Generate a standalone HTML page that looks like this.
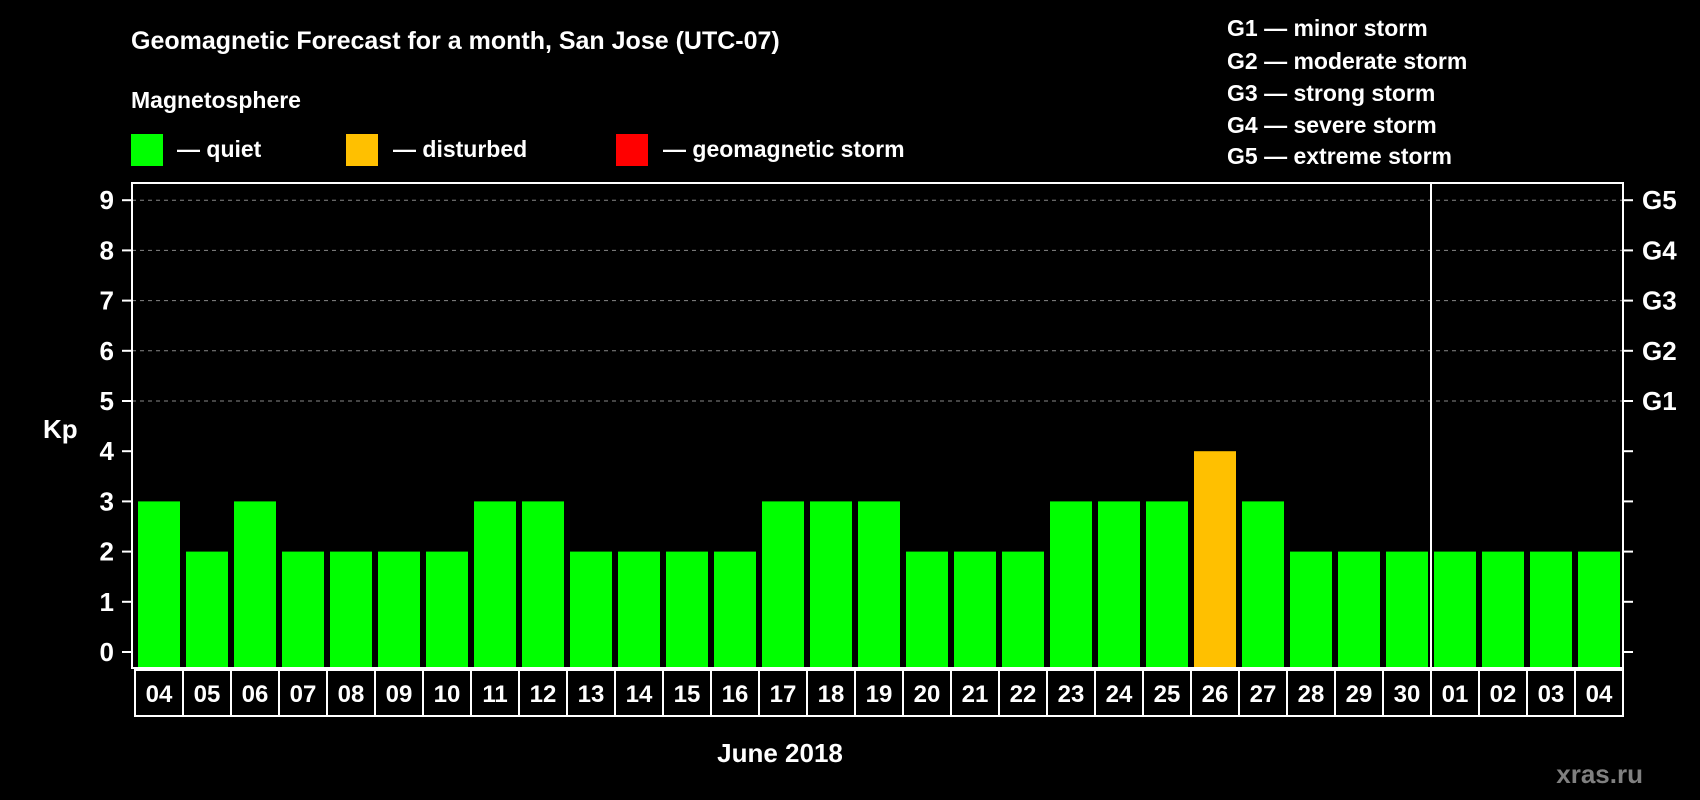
<!DOCTYPE html>
<html><head><meta charset="utf-8"><style>
html,body{margin:0;padding:0;background:#000;}
svg{display:block;font-family:"Liberation Sans",Arial,sans-serif;font-weight:bold;}
</style></head><body>
<svg id="c" width="1700" height="800" viewBox="0 0 1700 800">
<rect width="1700" height="800" fill="#000"/>
<text x="131" y="49" fill="#fff" font-size="25">Geomagnetic Forecast for a month, San Jose (UTC-07)</text>
<text x="131" y="108" fill="#fff" font-size="23">Magnetosphere</text>
<g><rect x="131" y="134" width="32" height="32" fill="#00ff00"/><text x="177" y="157" fill="#fff" font-size="23">— quiet</text></g>
<g><rect x="346" y="134" width="32" height="32" fill="#ffc000"/><text x="393" y="157" fill="#fff" font-size="23">— disturbed</text></g>
<g><rect x="616" y="134" width="32" height="32" fill="#ff0000"/><text x="663" y="157" fill="#fff" font-size="23">— geomagnetic storm</text></g>
<g fill="#fff" font-size="23">
<text x="1227" y="36">G1 — minor storm</text>
<text x="1227" y="69">G2 — moderate storm</text>
<text x="1227" y="101">G3 — strong storm</text>
<text x="1227" y="133">G4 — severe storm</text>
<text x="1227" y="164">G5 — extreme storm</text>
</g>
<text x="43" y="438" fill="#fff" font-size="26">Kp</text>
<text x="780" y="762" fill="#fff" font-size="26" text-anchor="middle">June 2018</text>
<text x="1643" y="783" fill="#808080" font-size="26" text-anchor="end">xras.ru</text>
<g id="grid"></g><g id="bars"></g><g id="axes"></g><g id="labels"></g>
</svg>
<script>
const days=["04","05","06","07","08","09","10","11","12","13","14","15","16","17","18","19","20","21","22","23","24","25","26","27","28","29","30","01","02","03","04"];
const kp=[3,2,3,2,2,2,2,3,3,2,2,2,2,3,3,3,2,2,2,3,3,3,4,3,2,2,2,2,2,2,2];
const yTicks=[0,1,2,3,4,5,6,7,8,9];
const gLabels=["G1","G2","G3","G4","G5"];
const gLevels=[5,6,7,8,9];
const NS="http://www.w3.org/2000/svg";
const L=132,R=1623,T=183,B=668,X0=135,slot=(1620-135+3)/31;
const y=v=>652-v*50.2;
const x=i=>X0+i*slot;
function mk(tag,attrs,parent){const e=document.createElementNS(NS,tag);for(const k in attrs)e.setAttribute(k,attrs[k]);document.getElementById(parent).appendChild(e);return e;}
gLevels.forEach(v=>{const e=mk('line',{x1:L,x2:R,y1:y(v),y2:y(v),stroke:'#888','stroke-dasharray':'4,4','stroke-width':1},'grid');

});
kp.forEach((v,i)=>{const e=mk('rect',{x:x(i)+3,y:y(v),width:slot-6,height:y(0)+16-y(v),fill:v>=5?'#ff0000':(v>=4?'#ffc000':'#00ff00')},'bars');

});
const f=mk('rect',{x:L,y:T,width:R-L,height:B-T,fill:'none',stroke:'#fff','stroke-width':2},'axes');


const sx=x(27);
const s=mk('line',{x1:sx,x2:sx,y1:T,y2:716,stroke:'#fff','stroke-width':2},'axes');


yTicks.forEach(v=>{mk('line',{x1:L-10,x2:L,y1:y(v),y2:y(v),stroke:'#fff','stroke-width':2},'axes');
mk('line',{x1:R,x2:R+10,y1:y(v),y2:y(v),stroke:'#fff','stroke-width':2},'axes');
const t=mk('text',{x:114,y:y(v)+9,fill:'#fff','font-size':26,'text-anchor':'end'},'labels');t.textContent=v;

});
gLabels.forEach((g,i)=>{const t=mk('text',{x:1642,y:y(gLevels[i])+9,fill:'#fff','font-size':26},'labels');t.textContent=g;

});
days.forEach((d,i)=>{const r=mk('rect',{x:x(i),y:670,width:slot,height:46,fill:'none',stroke:'#fff','stroke-width':2},'labels');


const t=mk('text',{x:x(i)+slot/2,y:702,fill:'#fff','font-size':24,'text-anchor':'middle'},'labels');t.textContent=d;

});
</script>
</body></html>
